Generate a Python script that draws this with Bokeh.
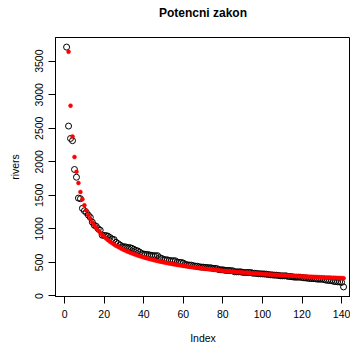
from bokeh.plotting import figure
from bokeh.models import Range1d, FixedTicker, Title
from bokeh.embed import file_html
from bokeh.resources import INLINE

rivers_sorted = [
    3710, 2533, 2348, 2315, 1885, 1770, 1459, 1450, 1306, 1270,
    1243, 1205, 1171, 1100, 1054, 1038, 1000, 981, 906, 900,
    900, 890, 870, 850, 840, 800, 780, 760, 735, 735,
    730, 720, 720, 710, 696, 680, 671, 652, 630, 625,
    620, 618, 610, 605, 600, 600, 600, 570, 560, 545,
    540, 538, 529, 525, 525, 524, 505, 500, 500, 490,
    470, 465, 460, 460, 450, 445, 444, 435, 431, 430,
    425, 424, 420, 420, 411, 410, 407, 392, 390, 390,
    383, 380, 380, 377, 375, 360, 360, 360, 360, 352,
    350, 350, 350, 350, 340, 338, 336, 332, 330, 329,
    327, 325, 320, 315, 314, 310, 310, 306, 301, 300,
    300, 300, 291, 290, 286, 281, 280, 280, 280, 276,
    270, 268, 265, 260, 260, 259, 255, 250, 250, 250,
    246, 237, 233, 230, 230, 217, 215, 210, 210, 202,
    135,
]

power_law_fit = [
    5578.0, 3640.2, 2836.0, 2375.6, 2070.7, 1850.8, 1683.3, 1550.3, 1441.9, 1351.3,
    1274.3, 1207.8, 1149.8, 1098.5, 1052.8, 1011.7, 974.7, 941.0, 910.2, 881.9,
    855.8, 831.6, 809.2, 788.2, 768.7, 750.4, 733.1, 716.9, 701.6, 687.0,
    673.4, 660.2, 647.9, 636.1, 624.9, 614.1, 603.9, 594.0, 584.6, 575.5,
    566.9, 558.5, 550.5, 542.7, 535.3, 528.1, 521.2, 514.4, 508.0, 501.7,
    495.6, 489.7, 484.0, 478.4, 473.0, 467.8, 462.8, 457.9, 453.0, 448.3,
    443.8, 439.5, 435.1, 430.8, 426.8, 422.8, 419.0, 415.1, 411.4, 407.8,
    404.2, 400.8, 397.4, 394.1, 390.8, 387.6, 384.6, 381.5, 378.5, 375.6,
    372.7, 370.0, 367.2, 364.5, 361.8, 359.3, 356.7, 354.2, 351.7, 349.3,
    347.0, 344.6, 342.4, 340.1, 337.9, 335.7, 333.6, 331.5, 329.4, 327.4,
    325.4, 323.4, 321.5, 319.6, 317.7, 315.9, 314.0, 312.2, 310.5, 308.7,
    307.0, 305.3, 303.7, 302.0, 300.4, 298.8, 297.2, 295.6, 294.1, 292.6,
    291.1, 289.6, 288.2, 286.8, 285.4, 283.9, 282.6, 281.1, 279.9, 278.5,
    277.2, 275.9, 274.7, 273.4, 272.1, 270.9, 269.7, 268.5, 267.3, 266.1,
    265.0,
]

index = list(range(1, len(rivers_sorted) + 1))

x_ticks = [0, 20, 40, 60, 80, 100, 120, 140]
y_ticks = [0, 500, 1000, 1500, 2000, 2500, 3000, 3500]
title_text = "Potencni zakon"

FONT = "Liberation Sans"

p = figure(
    width=350, height=346,
    output_backend="svg", toolbar_location=None,
    x_range=Range1d(-4.6, 144.5), y_range=Range1d(-8, 3853),
    min_border_left=55, min_border_right=0, min_border_top=37, min_border_bottom=49,
)

# spacer between the frame and the title (first added = closest to the frame)
p.add_layout(Title(text=" ", text_font_size="1px", standoff=15), "above")
p.add_layout(Title(
    text=title_text, align="center", vertical_align="bottom", standoff=0,
    text_font=FONT, text_font_size="12px", text_font_style="bold",
    text_color="black",
), "above")

p.xgrid.visible = False
p.ygrid.visible = False
p.outline_line_color = "black"
p.outline_line_width = 1
p.outline_line_alpha = 1
p.background_fill_color = "white"
p.border_fill_color = "white"

for ax in (p.xaxis[0], p.yaxis[0]):
    ax.axis_line_color = "black"
    ax.major_tick_line_color = "black"
    ax.major_tick_out = 7
    ax.major_tick_in = 0
    ax.minor_tick_line_color = None
    ax.major_label_text_font = FONT
    ax.major_label_text_font_size = "10.5px"
    ax.major_label_text_color = "black"
    ax.axis_label_text_font = FONT
    ax.axis_label_text_font_size = "10.5px"
    ax.axis_label_text_font_style = "normal"
    ax.axis_label_text_color = "black"

p.xaxis[0].ticker = FixedTicker(ticks=x_ticks)
p.yaxis[0].ticker = FixedTicker(ticks=y_ticks)
p.xaxis[0].axis_label = "Index"
p.yaxis[0].axis_label = "rivers"
p.xaxis[0].major_label_standoff = 6
p.yaxis[0].major_label_standoff = 5
p.yaxis[0].major_label_orientation = "vertical"
p.xaxis[0].axis_label_standoff = 11
p.yaxis[0].axis_label_standoff = 12

p.scatter(index, rivers_sorted, marker="circle", size=6,
          fill_color=None, line_color="black", line_width=1)
p.scatter(index, power_law_fit, marker="circle", size=4,
          fill_color="red", line_color="red", line_width=0.5)

open("out.html", "w").write(file_html(p, INLINE))
